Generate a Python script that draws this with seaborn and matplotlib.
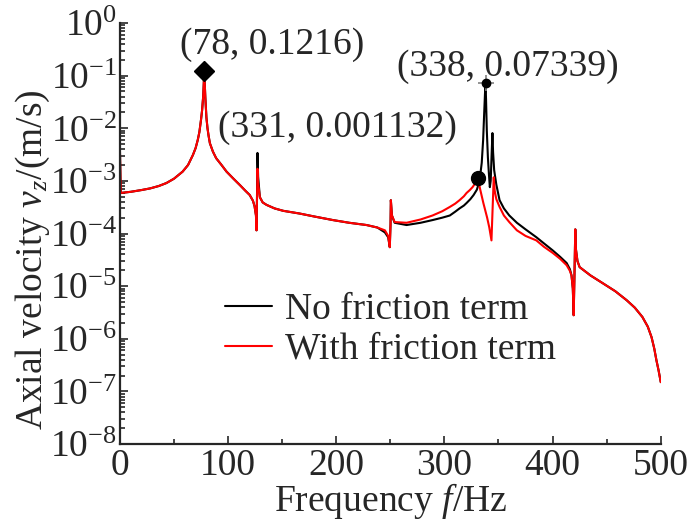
import matplotlib
matplotlib.use("Agg")
import matplotlib.pyplot as plt
import matplotlib.ticker as mticker
import seaborn as sns

# frequency response (Hz, m/s)
freq_no = [0, 0.8, 10, 20, 28, 36, 43, 50, 58, 63, 67.5, 70, 72, 73.5, 75, 76, 77, 77.6, 78,
           78.4, 79, 80, 81, 82, 83.2, 86, 89, 94, 98.6, 105, 111, 116, 120, 123, 124.5,
           125.8, 126.3, 126.8, 127.2, 127.8, 129.4, 132, 135.6, 143, 151, 166, 180, 197, 212,
           228, 238, 245, 248, 249.5, 250.2, 250.5, 251.5, 254, 265, 278, 289, 298, 305, 310,
           314, 318, 320.5, 324, 327, 330, 332.5, 334.5, 335.8, 336.8, 337.5, 338, 338.5, 339.2,
           340.2, 341.2, 342, 342.8, 343.6, 344.4, 345, 346, 348, 351, 355, 360, 367, 375, 385,
           392, 400, 407, 413, 416, 417.5, 418.7, 419.5, 420.2, 421, 421.6, 423, 425, 435, 446,
           458, 468.5, 476, 483, 488, 491.5, 494, 496, 498, 500]
vel_no = [4.2e-3, 5.9e-4, 6.2e-4, 6.7e-4, 7.2e-4, 8.0e-4, 9.1e-4, 1.1e-3, 1.5e-3, 2.0e-3, 3.1e-3, 4.2e-3, 6.0e-3, 8.5e-3, 1.45e-2, 2.2e-2, 4.0e-2, 7.5e-2, 0.1216,
          7.5e-2, 3.8e-2, 1.6e-2, 1.0e-2, 7.2e-3, 5.2e-3, 3.6e-3, 2.7e-3, 2.0e-3, 1.5e-3, 1.1e-3, 8.3e-4, 6.5e-4, 5.4e-4, 4.2e-4, 3.3e-4,
          2.2e-4, 1.15e-4, 6.0e-4, 3.4e-3, 1.2e-3, 4.9e-4, 3.9e-4, 3.5e-4, 3.0e-4, 2.7e-4, 2.4e-4, 2.1e-4, 1.8e-4, 1.6e-4,
          1.45e-4, 1.3e-4, 1.05e-4, 8.5e-5, 5.5e-5, 1.5e-4, 4.3e-4, 2.2e-4, 1.6e-4, 1.45e-4, 1.6e-4, 1.8e-4, 2.0e-4, 2.2e-4, 2.6e-4,
          3.0e-4, 3.4e-4, 3.8e-4, 4.5e-4, 5.4e-4, 6.8e-4, 1.0e-3, 2.2e-3, 6.0e-3, 2.0e-2, 4.5e-2, 7.339e-2, 3.5e-2, 9.0e-3,
          2.8e-3, 1.3e-3, 7.6e-4, 1.0e-3, 3.0e-3, 8.1e-3, 3.5e-3, 1.6e-3, 8.5e-4, 4.3e-4, 3.0e-4, 2.2e-4, 1.6e-4, 1.2e-4, 8.5e-5,
          6.5e-5, 4.8e-5, 3.6e-5, 2.75e-5, 2.1e-5, 1.6e-5, 9.0e-6, 2.8e-6, 1.5e-5, 1.2e-4, 5.0e-5, 3.0e-5, 2.3e-5, 1.6e-5, 1.15e-5,
          8.0e-6, 5.4e-6, 3.9e-6, 2.6e-6, 1.7e-6, 1.07e-6, 6.5e-7, 3.9e-7, 2.5e-7, 1.5e-7]

freq_with = [0, 0.8, 10, 20, 28, 36, 43, 50, 58, 63, 67.5, 70, 72, 73.5, 75, 76, 77, 77.6, 78,
             78.4, 79, 80, 81, 82, 83.2, 86, 89, 94, 98.6, 105, 111, 116, 120, 123, 124.5,
             125.8, 126.3, 126.8, 127.2, 127.8, 129.4, 132, 135.6, 143, 151, 166, 180, 197, 212,
             228, 238, 245, 248, 249.5, 250.2, 250.5, 251.5, 254, 265, 278, 289, 298, 305, 310,
             314, 318, 320.5, 323.5, 326, 328.5, 331, 333, 336, 339.5, 341.5, 343.5, 345.6, 346.5,
             348, 351, 355, 360, 367, 375, 385, 392, 400, 407, 413, 416, 417.5, 418.7, 419.5, 420.2,
             421, 421.6, 423, 425, 435, 446, 458, 468.5, 476, 483, 488, 491.5, 494, 496, 498, 500]
vel_with = [4.2e-3, 5.9e-4, 6.2e-4, 6.7e-4, 7.2e-4, 8.0e-4, 9.1e-4, 1.1e-3, 1.5e-3, 2.0e-3, 3.1e-3, 4.2e-3, 6.0e-3, 8.5e-3, 1.45e-2, 2.2e-2, 4.0e-2, 7.5e-2, 0.1216,
            7.5e-2, 3.8e-2, 1.6e-2, 1.0e-2, 7.2e-3, 5.2e-3, 3.6e-3, 2.7e-3, 2.0e-3, 1.5e-3, 1.1e-3, 8.3e-4, 6.5e-4, 5.4e-4, 4.2e-4, 3.3e-4,
            2.2e-4, 1.15e-4, 5.0e-4, 1.7e-3, 9.0e-4, 4.9e-4, 3.9e-4, 3.5e-4, 3.0e-4, 2.7e-4, 2.4e-4, 2.1e-4, 1.8e-4, 1.6e-4,
            1.45e-4, 1.3e-4, 1.15e-4, 9.0e-5, 5.5e-5, 1.5e-4, 4.3e-4, 2.2e-4, 1.65e-4, 1.6e-4, 1.85e-4, 2.2e-4, 2.65e-4, 3.2e-4, 3.7e-4,
            4.3e-4, 5.1e-4, 5.9e-4, 6.7e-4, 7.6e-4, 9.0e-4, 1.132e-3, 7.0e-4, 3.8e-4, 2.0e-4, 1.3e-4, 7.4e-5, 1.17e-3, 6.5e-4,
            4.5e-4, 3.2e-4, 2.2e-4, 1.65e-4, 1.15e-4, 9.0e-5, 7.4e-5, 5.6e-5, 4.3e-5, 3.3e-5, 2.5e-5, 1.95e-5, 1.6e-5, 9.0e-6, 2.8e-6, 1.5e-5,
            1.2e-4, 5.0e-5, 3.0e-5, 2.3e-5, 1.6e-5, 1.15e-5, 8.0e-6, 5.4e-6, 3.9e-6, 2.6e-6, 1.7e-6, 1.07e-6, 6.5e-7, 3.9e-7, 2.5e-7, 1.5e-7]

peak_f = [78, 331, 338]
peak_v = [0.1216, 0.001132, 0.07339]
peak_text = ["(78, 0.1216)", "(331, 0.001132)", "(338, 0.07339)"]

FS = 27

sns.set_style("ticks")
plt.rcParams["font.family"] = ["Liberation Serif", "DejaVu Serif"]
plt.rcParams["mathtext.fontset"] = "custom"
plt.rcParams["mathtext.rm"] = "Liberation Serif"
plt.rcParams["mathtext.it"] = "Liberation Serif:italic"

fig = plt.figure(figsize=(6.97, 5.23), dpi=100)
ax = fig.add_axes([0.172, 0.151, 0.776, 0.805])

sns.lineplot(x=freq_no, y=vel_no, ax=ax, color="black", linewidth=1.5,
             label="No friction term", estimator=None, sort=False)
sns.lineplot(x=freq_with, y=vel_with, ax=ax, color="red", linewidth=1.5,
             label="With friction term", estimator=None, sort=False)

# data tips
ax.plot(peak_f[0], peak_v[0], marker="D", color="black", markersize=10, linestyle="none")
ax.plot(peak_f[1], peak_v[1], marker="o", color="black", markersize=10, linestyle="none")
ax.plot(peak_f[2], peak_v[2], marker="+", color="gray", markersize=12, mew=1.2, linestyle="none")
ax.plot(peak_f[2], peak_v[2], marker="o", color="black", markersize=6, linestyle="none")

offsets = [(49, 19), (-101, 36), (16, 11.5)]
for f, v, t, off in zip(peak_f, peak_v, peak_text, offsets):
    ax.annotate(t, xy=(f, v), xytext=off, textcoords="offset points",
                ha="center", va="center", fontsize=FS)

ax.set_yscale("log")
ax.set_xlim(0, 500)
ax.set_ylim(1e-8, 1)
ax.xaxis.set_major_locator(mticker.MultipleLocator(100))
ax.xaxis.set_minor_locator(mticker.MultipleLocator(50))
ax.yaxis.set_major_locator(mticker.LogLocator(base=10, numticks=20))
ax.yaxis.set_minor_locator(mticker.LogLocator(base=10, subs=range(2, 10), numticks=20))
ax.yaxis.set_minor_formatter(mticker.NullFormatter())

ax.tick_params(axis="both", which="both", direction="in", width=1.2, labelsize=FS)
ax.tick_params(axis="both", which="major", length=6)
ax.tick_params(axis="both", which="minor", length=3.8)
ax.tick_params(axis="x", which="both", pad=3)
ax.tick_params(axis="y", which="both", pad=2)

sns.despine(ax=ax)
for s in ["left", "bottom"]:
    ax.spines[s].set_linewidth(1.6)

ax.set_xlabel("Frequency $f$/Hz", fontsize=FS)
ax.set_ylabel("Axial velocity $v_z$/(m/s)", fontsize=FS)
ax.xaxis.set_label_coords(0.5, -0.088)
ax.yaxis.set_label_coords(-0.125, 0.437)

ax.legend(loc="center left", bbox_to_anchor=(0.194, 0.272), frameon=False, fontsize=FS,
          borderpad=0, borderaxespad=0, handlelength=1.25, handletextpad=0.35, labelspacing=0.15)

fig.savefig("out.png", dpi=100)
